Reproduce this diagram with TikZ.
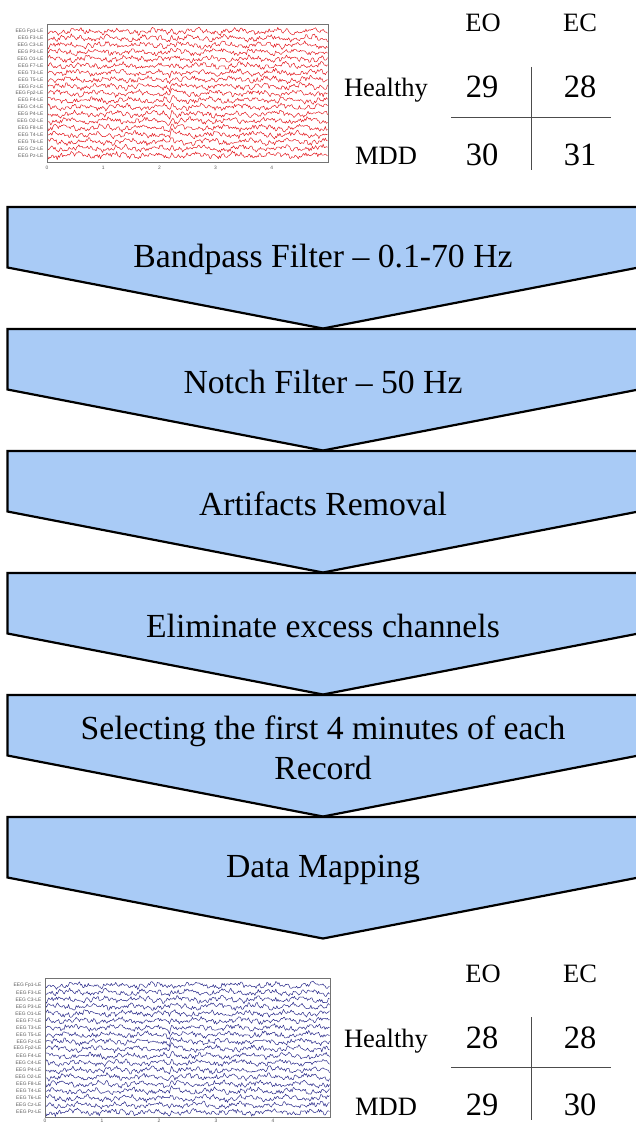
\documentclass[tikz,border=0pt]{standalone}
\usepackage{fontspec}
\setmainfont{Liberation Serif}
\newfontfamily\lsans{Liberation Sans}
\definecolor{chevfill}{RGB}{169,203,246}
\definecolor{eegred}{RGB}{228,30,36}
\definecolor{eegblue}{RGB}{45,45,140}

% #1 x, #2 y, #3 width, #4 height, #5 label spacing, #6 colour, #7 prefix, #8 tick y
\newcommand\eegpanel[8]{%
  \begin{scope}[shift={(#1,#2)}]
    \begin{scope}
      \clip (0,0) rectangle (#3,#4);
      \foreach \lab [count=\k from 0] in {Fp1,F3,C3,P3,O1,F7,T3,T5,Fz,Fp2,F4,C4,P4,O2,F8,T4,T6,Cz,Pz}{
        \pgfmathsetseed{100+\k}
        \draw[#6, line width=0.5pt, line join=round]
          plot[domain=0.5:#3-0.5, samples=260, variable=\x]
          (\x, {7.3+#5*\k + 1.9*rand + 1.5*sin(9*\x+61*\k) + 1.1*sin(40*\x+23*\k)
                - 8*max(min((\x-0.44*#3)/1.5,6),-6)/(1+max(min((\x-0.44*#3)/1.5,6),-6)^2)^2});
      }
    \end{scope}
    \draw[frame] (0,0) rectangle (#3,#4);
    \foreach \lab [count=\k from 0] in {Fp1,F3,C3,P3,O1,F7,T3,T5,Fz,Fp2,F4,C4,P4,O2,F8,T4,T6,Cz,Pz}{
      \node[chlabel] (#7\k) at (-3.5, 7.3+#5*\k) {EEG \lab-LE};
    }
    \foreach \n in {0,...,4}{
      \node[ticklabel] (#7tick\n) at ({#3/5*\n}, #8) {\n};
    }
  \end{scope}
}

\begin{document}
\begin{tikzpicture}[x=1pt,y=-1pt,
  chev/.style={draw=black,line width=2.2pt,fill=chevfill,line join=miter},
  chevtext/.style={font=\fontsize{33.7}{40}\selectfont, align=center, inner sep=0pt},
  tlabel/.style={font=\fontsize{26.5}{30}\selectfont, anchor=base, inner sep=0pt},
  tnum/.style={font=\fontsize{32.5}{38}\selectfont, anchor=base, inner sep=0pt},
  tline/.style={draw=black!70, line width=0.9pt},
  chlabel/.style={font=\lsans\fontsize{4.9}{5}\selectfont, text=black!65, anchor=east, inner sep=0pt},
  ticklabel/.style={font=\lsans\fontsize{4.9}{5}\selectfont, text=black!65, inner sep=0pt},
  frame/.style={draw=black!55, line width=0.6pt}
]
\useasboundingbox (0,0) rectangle (636,1123);

% process chevrons
\foreach \i/\nm/\txt in {0/bandpass/{Bandpass Filter -- 0.1-70 Hz},
                         1/notch/{Notch Filter -- 50 Hz},
                         2/artifacts/{Artifacts Removal},
                         3/eliminate/{Eliminate excess channels},
                         4/selecting/{Selecting the first 4 minutes of each\\Record},
                         5/mapping/{Data Mapping}}{
  \pgfmathsetmacro{\ytop}{207+122*\i}
  \draw[chev] (7.5,\ytop) -- (638.5,\ytop) -- (638.5,\ytop+60.5)
     -- (323,\ytop+121.5) -- (7.5,\ytop+60.5) -- cycle;
  \node[chevtext] (\nm) at (323,\ytop+52.5) {\txt};
}

% EEG panels
\eegpanel{47}{24}{281}{138}{6.89}{eegred}{top}{144}
\eegpanel{45}{978}{285}{139}{7.05}{eegblue}{bot}{142.3}

% tables
\foreach \dy/\p/\a/\b/\c/\d in {0/t/29/28/30/31, 950/b/28/28/29/30}{
  \begin{scope}[shift={(0,\dy)}]
    \node[tlabel] (\p eo) at (483,32) {EO};
    \node[tlabel] (\p ec) at (580,32) {EC};
    \node[tlabel] (\p healthy) at (386,97) {Healthy};
    \node[tlabel] (\p mdd) at (386,165) {MDD};
    \node[tnum] (\p ha) at (482,98) {\a};
    \node[tnum] (\p hb) at (580,98) {\b};
    \node[tnum] (\p ma) at (482,165.5) {\c};
    \node[tnum] (\p mb) at (580,165.5) {\d};
    \draw[tline] (531,67) -- (531,170);
    \draw[tline] (451,117.5) -- (611,117.5);
  \end{scope}
}
\end{tikzpicture}
\end{document}
